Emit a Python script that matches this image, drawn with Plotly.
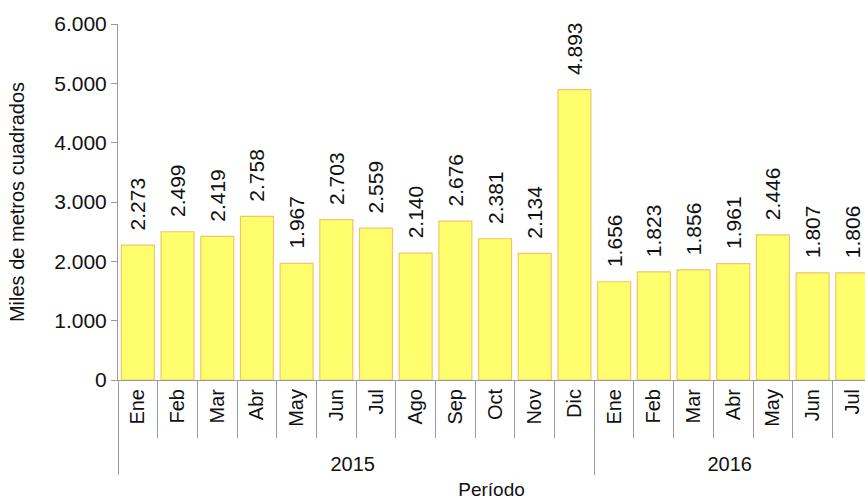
import plotly.graph_objects as go

years = ["2015"] * 12 + ["2016"] * 7
months = ["Ene", "Feb", "Mar", "Abr", "May", "Jun", "Jul", "Ago", "Sep", "Oct", "Nov", "Dic",
          "Ene", "Feb", "Mar", "Abr", "May", "Jun", "Jul"]
values = [2273, 2499, 2419, 2758, 1967, 2703, 2559, 2140, 2676, 2381, 2134, 4893,
          1656, 1823, 1856, 1961, 2446, 1807, 1806]
y_ticks = [0, 1000, 2000, 3000, 4000, 5000, 6000]

font_family = "Liberation Sans, Arial, sans-serif"
axis_color = "#9a9a9a"
pad = "\u00a0"

# leading non-breaking space gives a little room below the rotated month labels
month_labels = [pad + m for m in months]

fig = go.Figure(go.Bar(
    x=[years, month_labels],
    y=values,
    marker=dict(color="#FFFF6E", line=dict(color="#F5C46A", width=1.2)),
    texttemplate=pad * 2 + "%{y:,d}",
    textposition="outside",
    textangle=-90,
    constraintext="none",
    textfont=dict(size=21, color="#111111", family=font_family),
    cliponaxis=False,
    hoverinfo="skip",
))

fig.update_layout(
    width=865, height=500,
    margin=dict(l=118, r=0, t=24, b=120),
    paper_bgcolor="white", plot_bgcolor="white",
    separators=",.",
    bargap=0.17,
    showlegend=False,
    font=dict(family=font_family, size=20, color="#111111"),
)

fig.update_xaxes(
    type="multicategory",
    automargin=False,
    range=[-0.5, 18.32],
    showline=True, linecolor=axis_color, linewidth=1,
    ticks="outside", tickson="boundaries", ticklen=57, tickcolor=axis_color,
    tickangle=-90,
    showdividers=True, dividercolor=axis_color, dividerwidth=1,
    tickfont=dict(size=20, color="#111111"),
    title=dict(text="Período", font=dict(size=19), standoff=8),
    showgrid=False,
)

fig.update_yaxes(
    automargin=False,
    range=[0, 6000],
    tickvals=y_ticks,
    tickformat=",d",
    showline=True, linecolor=axis_color, linewidth=1,
    ticks="outside", ticklen=6, tickcolor=axis_color,
    showgrid=False, zeroline=False,
    tickfont=dict(size=21, color="#111111"),
    title=dict(text="Miles de metros cuadrados", font=dict(size=20), standoff=24),
)

fig.write_html(
    "out.html",
    config={"displayModeBar": False},
    post_script="document.body.style.margin='0';document.body.style.overflow='hidden';",
)
